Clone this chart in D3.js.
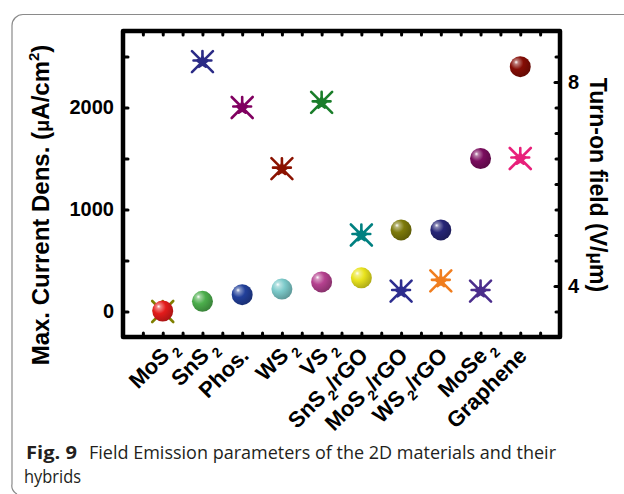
<!DOCTYPE html>
<html><head><meta charset="utf-8">
<script src="https://cdn.jsdelivr.net/npm/d3@7"></script>
<style>body{margin:0;background:#fff}svg{display:block}</style>
</head><body>
<svg id="chart" width="624" height="494"></svg>
<script>
// ---------- data ----------
const categories = ["MoS_2","SnS_2","Phos.","WS_2","VS_2","SnS_2/rGO","MoS_2/rGO","WS_2/rGO","MoSe_2","Graphene"];
const maxCurrentDensity = [5, 100, 165, 220, 290, 330, 800, 800, 1500, 2400];   // µA/cm², left axis (spheres)
const turnOnField = [3.5, 8.4, 7.5, 6.3, 7.6, 5.0, 3.9, 4.1, 3.9, 6.5];          // V/µm, right axis (stars)
const sphereColors = ["#e31b1b","#4cae4c","#22409a","#7ccaca","#b5418f","#e9e31e","#7d7a0a","#262577","#7a0d5e","#850d05"];
const starColors = ["#7f7f00","#2b2b86","#800060","#8b1200","#1a7d2a","#008080","#2d2d8f","#f07d1e","#4b2d8c","#e8207a"];
const leftTickLabels = [0, 1000, 2000];
const leftMinorTicks = [500, 1500, 2500];
const rightTickLabels = [4, 8];
const captionBold = "Fig. 9";
const captionLine1 = "Field Emission parameters of the 2D materials and their";
const captionLine2 = "hybrids";

// ---------- layout ----------
const svg = d3.select("#chart");
const L = 123, R = 560, T = 31, B = 337;
const FONT = "'Liberation Sans', Arial, Helvetica, sans-serif";

const x = d3.scaleLinear().domain([-1, 10]).range([L, R]);
const yL = d3.scaleLinear().domain([-250, 2750]).range([B, T]);
const yR = d3.scaleLinear().domain([3, 9]).range([B, T]);

// card border
svg.append("path")
  .attr("d", "M624,14.5 H23 A11,11 0 0 0 12,25.5 V484 A9,9 0 0 0 17,494")
  .attr("fill", "none").attr("stroke", "#8a8a8a").attr("stroke-width", 1.2);

// gradients for spheres
const defs = svg.append("defs");
sphereColors.forEach((c, i) => {
  const g = defs.append("radialGradient").attr("id", "sph" + i)
    .attr("cx", "38%").attr("cy", "36%").attr("r", "70%").attr("fx", "30%").attr("fy", "28%");
  g.append("stop").attr("offset", "0%").attr("stop-color", "#ffffff");
  g.append("stop").attr("offset", "14%").attr("stop-color", d3.interpolateRgb("#ffffff", c)(0.55));
  g.append("stop").attr("offset", "45%").attr("stop-color", c);
  g.append("stop").attr("offset", "100%").attr("stop-color", d3.color(c).darker(0.9));
});

// ---------- axes (ticks) ----------
const halfTicks = d3.range(-0.5, 10, 0.5);
function styleAxis(g) {
  g.select(".domain").remove();
  g.selectAll(".tick line").attr("stroke", "#000").attr("stroke-width", 3).attr("stroke-linecap", "round");
  g.selectAll("text").attr("font-family", FONT).attr("font-weight", "bold").attr("font-size", 20).attr("fill", "#000");
}
svg.append("g").attr("transform", `translate(0,${B})`)
  .call(d3.axisBottom(x).tickValues(halfTicks).tickSizeInner(-4).tickSizeOuter(0).tickFormat(""))
  .call(styleAxis);
svg.append("g").attr("transform", `translate(0,${T})`)
  .call(d3.axisTop(x).tickValues(halfTicks).tickSizeInner(-4).tickSizeOuter(0).tickFormat(""))
  .call(styleAxis);
svg.append("g").attr("transform", `translate(${L},0)`)
  .call(d3.axisLeft(yL).tickValues(leftTickLabels).tickSizeInner(-5).tickSizeOuter(0).tickPadding(9).tickFormat(d3.format("d")))
  .call(styleAxis);
svg.append("g").attr("transform", `translate(${L},0)`)
  .call(d3.axisLeft(yL).tickValues(leftMinorTicks).tickSizeInner(-5).tickSizeOuter(0).tickFormat(""))
  .call(styleAxis);
svg.append("g").attr("transform", `translate(${R},0)`)
  .call(d3.axisRight(yR).tickValues(rightTickLabels).tickSizeInner(-5).tickSizeOuter(0).tickPadding(8).tickFormat(d3.format("d")))
  .call(styleAxis);
svg.append("g").attr("transform", `translate(${R},0)`)
  .call(d3.axisRight(yR).tickValues(d3.range(3.5, 9, 0.5).filter(v => !rightTickLabels.includes(v))).tickSizeInner(-4).tickSizeOuter(0).tickFormat(""))
  .call(styleAxis);

// frame
svg.append("rect").attr("x", L).attr("y", T).attr("width", R - L).attr("height", B - T)
  .attr("fill", "none").attr("stroke", "#000").attr("stroke-width", 4.5).attr("stroke-linejoin", "round");

// ---------- category labels ----------
categories.forEach((name, i) => {
  const tr = `translate(${x(i) + 8},${B + 20}) rotate(-45)`;
  const trailingSub = name.endsWith("_2");
  const main = trailingSub ? name.slice(0, -2) : name;
  const t = svg.append("text").attr("transform", tr)
    .attr("text-anchor", "end")
    .attr("font-family", FONT).attr("font-weight", "bold").attr("font-size", 22).attr("fill", "#000");
  const parts = main.split("_2");
  parts.forEach((p, k) => {
    if (k > 0) {
      t.append("tspan").attr("font-size", 14).attr("dx", 3).attr("dy", 6).text("2");
      t.append("tspan").attr("dy", -6).text(p);
    } else {
      t.append("tspan").text(p);
    }
  });
  if (trailingSub) {
    svg.append("text").attr("transform", tr)
      .attr("text-anchor", "start").attr("dx", 4).attr("dy", 6)
      .attr("font-family", FONT).attr("font-weight", "bold").attr("font-size", 14).attr("fill", "#000")
      .text("2");
  }
});

// ---------- markers ----------
function starPath(s) {
  const p = d3.path();
  p.moveTo(-s, -s); p.lineTo(s, s);
  p.moveTo(s, -s); p.lineTo(-s, s);
  p.moveTo(0, -s); p.lineTo(0, 0);
  p.moveTo(-s * 0.85, -s * 0.1); p.lineTo(s * 0.85, -s * 0.1);
  const ro = s * 0.55, ri = s * 0.22;
  for (let k = 0; k <= 10; k++) {
    const a = -Math.PI / 2 + k * Math.PI / 5;
    const r = k % 2 ? ri : ro;
    const px = r * Math.cos(a), py = r * Math.sin(a) + s * 0.05;
    if (k === 0) p.moveTo(px, py); else p.lineTo(px, py);
  }
  return p.toString();
}
svg.append("g").selectAll("path").data(turnOnField).join("path")
  .attr("transform", (d, i) => `translate(${x(i)},${yR(d)})`)
  .attr("d", starPath(10.5))
  .attr("fill", "none")
  .attr("stroke", (d, i) => starColors[i])
  .attr("stroke-width", 2.6).attr("stroke-linecap", "round").attr("stroke-linejoin", "round");

svg.append("g").selectAll("circle").data(maxCurrentDensity).join("circle")
  .attr("cx", (d, i) => x(i)).attr("cy", d => yL(d)).attr("r", 10.5)
  .attr("fill", (d, i) => `url(#sph${i})`);

// ---------- axis titles ----------
const lt = svg.append("text").attr("transform", "translate(49,205) rotate(-90)")
  .attr("text-anchor", "middle").attr("font-family", FONT).attr("font-weight", "bold").attr("font-size", 24).attr("fill", "#000");
lt.append("tspan").text("Max. Current Dens. (");
lt.append("tspan").attr("font-size", 20).text("\u03bc");
lt.append("tspan").text("A/cm");
lt.append("tspan").attr("font-size", 15).attr("dy", -10).text("2");
lt.append("tspan").attr("dy", 10).text(")");

const rt = svg.append("text").attr("transform", "translate(590,185) rotate(90)")
  .attr("text-anchor", "middle").attr("font-family", FONT).attr("font-weight", "bold").attr("font-size", 23).attr("fill", "#000");
rt.append("tspan").text("Turn-on field (V/");
rt.append("tspan").attr("font-size", 19).text("\u03bc");
rt.append("tspan").text("m)");

// ---------- caption ----------
const CAP = "'Open Sans', 'Noto Sans', sans-serif";
svg.append("text").attr("x", 26).attr("y", 459)
  .attr("font-family", CAP).attr("font-weight", "bold").attr("font-size", 18).attr("fill", "#231f20")
  .attr("textLength", 51).attr("lengthAdjust", "spacingAndGlyphs").text(captionBold);
svg.append("text").attr("x", 89).attr("y", 459)
  .attr("font-family", CAP).attr("font-size", 18).attr("fill", "#231f20")
  .attr("textLength", 467).attr("lengthAdjust", "spacingAndGlyphs").text(captionLine1);
svg.append("text").attr("x", 24).attr("y", 483)
  .attr("font-family", CAP).attr("font-size", 18).attr("fill", "#231f20")
  .attr("textLength", 57).attr("lengthAdjust", "spacingAndGlyphs").text(captionLine2);
</script>
</body></html>
